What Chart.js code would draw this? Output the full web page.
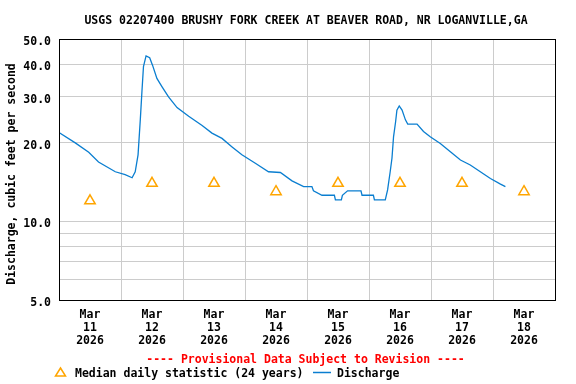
<!DOCTYPE html>
<html><head><meta charset="utf-8">
<script src="https://cdn.jsdelivr.net/npm/chart.js@4"></script>
<style>html,body{margin:0;padding:0;background:#fff}</style>
</head><body>
<canvas id="c" width="576" height="384" style="width:576px;height:384px;display:block"></canvas>
<script>
const TITLE = 'USGS 02207400 BRUSHY FORK CREEK AT BEAVER ROAD, NR LOGANVILLE,GA';
const Y_TITLE = 'Discharge, cubic feet per second';
const PROVISIONAL = '---- Provisional Data Subject to Revision ----';
const LEGEND_MEDIAN = 'Median daily statistic (24 years)';
const LEGEND_DISCHARGE = 'Discharge';
const MONTH = 'Mar';
const YEAR = '2026';
const DAY_LABELS = ['11','12','13','14','15','16','17','18'];
const Y_TICKS = [5,6,7,8,9,10,20,30,40,50];
const Y_LABELED = [5,10,20,30,40,50];
// hours since Mar 11 00:00
const MEDIAN_HOURS = [12,36,60,84,108,132,156,180];
const MEDIAN_VALUES = [12,14,14,13,14,14,14,13];
const DISCHARGE_HOURS = [0,6.3,11.5,15.3,21.8,25.6,28.3,29.5,30.6,31.5,32.1,32.7,33.7,35.1,36.2,37.9,39.9,42.4,45.7,50.2,55.4,59.2,63.1,67.0,70.8,76.0,81.1,85.7,90.2,94.7,97.9,98.5,101.8,106.6,107.0,109.3,109.7,111.7,116.9,117.3,121.7,122.1,126.3,127.2,128.2,128.9,129.5,130.3,130.8,131.7,132.8,134.1,135.0,138.6,141.1,143.7,147.6,151.5,155.4,159.2,163.1,167.0,170.9,172.8];
const DISCHARGE_VALUES = [21.9,20.0,18.4,16.9,15.5,15.1,14.7,15.5,18.0,24.8,31.4,39.2,43.1,42.4,39.7,35.3,32.8,30.0,27.3,25.3,23.3,21.8,20.8,19.3,18.0,16.7,15.5,15.4,14.3,13.6,13.6,13.1,12.6,12.6,12.1,12.1,12.6,13.1,13.1,12.6,12.6,12.1,12.1,13.2,15.5,17.5,21.1,24.1,26.7,27.7,26.7,24.5,23.6,23.6,22.1,21.1,19.9,18.5,17.2,16.45,15.5,14.6,13.9,13.6];

const FONT = '"DejaVu Sans Mono", "Liberation Mono", monospace';
const FS = 11.5;
const BLUE = '#0a7ed0';
const ORANGE = '#ffa500';
const GRID = '#cccccc';

const xTicks = [];
for (let h = 0; h <= 192; h += 12) xTicks.push({value: h});

const textPlugin = {
  id: 'texts',
  afterDraw(chart) {
    const ctx = chart.ctx;
    const a = chart.chartArea;
    ctx.save();
    ctx.strokeStyle = '#000';
    ctx.lineWidth = 1;
    ctx.strokeRect(Math.round(a.left) + 0.5, Math.round(a.top) + 0.5, Math.round(a.right - a.left), Math.round(a.bottom - a.top));
    ctx.font = 'bold ' + FS + 'px ' + FONT;
    ctx.textBaseline = 'middle';
    ctx.fillStyle = '#000';
    ctx.textAlign = 'center';
    ctx.fillText(TITLE, 306, 21);
    ctx.save();
    ctx.translate(12, 174);
    ctx.rotate(-Math.PI / 2);
    ctx.fillText(Y_TITLE, 0, 0);
    ctx.restore();
    ctx.fillStyle = '#ff0000';
    ctx.fillText(PROVISIONAL, 305.5, 360);
    // legend
    ctx.strokeStyle = ORANGE;
    ctx.lineWidth = 1.5;
    ctx.beginPath();
    ctx.moveTo(60.5, 368);
    ctx.lineTo(65.5, 376);
    ctx.lineTo(55.5, 376);
    ctx.closePath();
    ctx.stroke();
    ctx.fillStyle = '#000';
    ctx.textAlign = 'left';
    ctx.fillText(LEGEND_MEDIAN, 75, 374);
    ctx.strokeStyle = BLUE;
    ctx.beginPath();
    ctx.moveTo(313, 372.5);
    ctx.lineTo(331, 372.5);
    ctx.stroke();
    ctx.fillText(LEGEND_DISCHARGE, 337, 374);
    ctx.restore();
  }
};

new Chart(document.getElementById('c'), {
  type: 'line',
  data: {
    datasets: [
      {
        label: LEGEND_DISCHARGE,
        data: DISCHARGE_HOURS.map((h, i) => ({x: h, y: DISCHARGE_VALUES[i]})),
        borderColor: BLUE,
        borderWidth: 1.3,
        pointRadius: 0,
        tension: 0,
        fill: false
      },
      {
        label: LEGEND_MEDIAN,
        data: MEDIAN_HOURS.map((h, i) => ({x: h, y: MEDIAN_VALUES[i]})),
        showLine: false,
        pointStyle: 'triangle',
        pointRadius: 6,
        borderColor: ORANGE,
        backgroundColor: 'rgba(0,0,0,0)',
        pointBorderWidth: 1.5
      }
    ]
  },
  options: {
    responsive: false,
    animation: false,
    layout: {padding: {top: 39, right: 21, left: 0, bottom: 0}},
    plugins: {legend: {display: false}, title: {display: false}, tooltip: {enabled: false}},
    scales: {
      x: {
        type: 'linear',
        min: 0, max: 192,
        afterBuildTicks: s => { s.ticks = xTicks.map(t => ({value: t.value})); },
        afterFit: s => { s.height = 84; },
        border: {display: false},
        grid: {
          drawTicks: false,
          color: c => (c.tick && c.tick.value % 24 === 0 && c.tick.value > 0 && c.tick.value < 192) ? GRID : 'rgba(0,0,0,0)'
        },
        ticks: {
          autoSkip: false, maxRotation: 0, padding: 9,
          color: '#000',
          font: {family: FONT, size: FS, weight: 'bold', lineHeight: 13 / FS},
          callback: v => (v % 24 === 12) ? [MONTH, DAY_LABELS[(v - 12) / 24], YEAR] : ''
        }
      },
      y: {
        type: 'logarithmic',
        min: 5, max: 50,
        afterBuildTicks: s => { s.ticks = Y_TICKS.map(v => ({value: v})); },
        afterFit: s => { s.width = 59; },
        border: {display: false},
        grid: {
          drawTicks: false,
          color: c => (c.tick && c.tick.value > 5 && c.tick.value < 50) ? GRID : 'rgba(0,0,0,0)'
        },
        ticks: {
          autoSkip: false, padding: 8,
          color: '#000',
          font: {family: FONT, size: FS, weight: 'bold', lineHeight: 6 / FS},
          callback: v => Y_LABELED.includes(v) ? ['', v.toFixed(1)] : ''
        }
      }
    }
  },
  plugins: [textPlugin]
});
</script>
</body></html>
